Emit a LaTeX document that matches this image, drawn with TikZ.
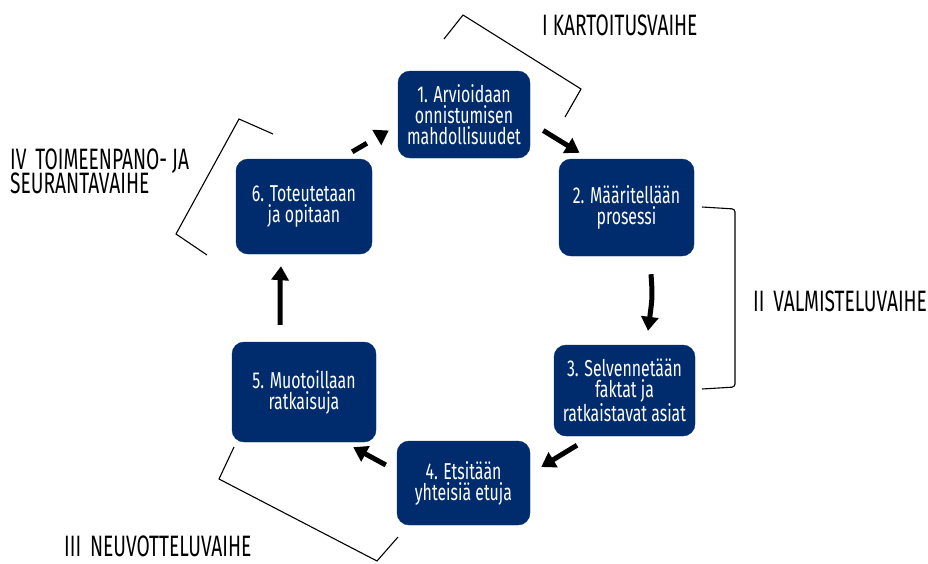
\documentclass[tikz,border=0pt]{standalone}
\usepackage{fontspec}
\setmainfont{Fira Sans}[FakeStretch=0.69]
\newfontfamily\labelfont{Fira Sans}[FakeStretch=0.65]
\usetikzlibrary{arrows.meta}
\definecolor{navy}{RGB}{0,44,110}
\tikzset{
  stepbox/.style={draw=navy, fill=navy, rounded corners=12pt, text=white, align=center,
    font=\fontsize{23}{21}\selectfont, inner sep=0pt},
  flow/.style={line width=5pt, -{Triangle[length=14pt,width=17pt]}},
  brack/.style={line width=1.1pt, line join=miter},
  phase/.style={font=\labelfont\fontsize{29.5}{30}\selectfont, anchor=west, inner sep=0pt,
    text height=19pt, text depth=0pt}
}
\begin{document}
\begin{tikzpicture}[x=1pt,y=-1pt]
\useasboundingbox (0,0) rectangle (928,563);
\node[stepbox, minimum width=132pt, minimum height=87pt] (n1) at (464,114.5) {1. Arvioidaan\\onnistumisen\\mahdollisuudet};
\node[stepbox, minimum width=135pt, minimum height=97pt] (n2) at (626.5,207.5) {2. Määritellään\\prosessi};
\node[stepbox, minimum width=141pt, minimum height=91pt] (n3) at (624.5,390.5) {3. Selvennetään\\faktat ja\\ratkaistavat asiat};
\node[stepbox, minimum width=133pt, minimum height=84pt] (n4) at (463.5,483) {4. Etsitään\\yhteisiä etuja};
\node[stepbox, minimum width=144pt, minimum height=100pt] (n5) at (304,392) {5. Muotoillaan\\ratkaisuja};
\node[stepbox, minimum width=136pt, minimum height=95pt] (n6) at (304,206.5) {6. Toteutetaan\\ja opitaan};

\draw[flow] ([shift={(13,16)}]n1.east) -- ([shift={(-47,-6)}]n2.north);
\draw[flow] ([shift={(24.5,18)}]n2.south) .. controls ([shift={(26,40)}]n2.south) .. ([shift={(23.5,-14)}]n3.north);
\draw[flow] ([shift={(-47.5,9)}]n3.south) -- ([shift={(11,-16)}]n4.east);
\draw[flow] ([shift={(-11,-18)}]n4.west) -- ([shift={(-23,5)}]n5.south east);
\draw[flow] ([shift={(-24,-17)}]n5.north) .. controls ([shift={(-24,-60)}]n5.north) .. ([shift={(-23,12)}]n6.south);
\draw[flow, dash pattern=on 17pt off 40pt] ([shift={(-20,-7)}]n6.north east) -- ([shift={(-9,16)}]n1.west);

\draw[brack] (444,39) -- (463,15) -- (581,89) -- (565,117);
\draw[brack, rounded corners=3pt] (702,207) -- (735,209) -- (735,387) -- (702,389);
\draw[brack] (234,447) -- (219,479) -- (377,561) -- (398,537);
\draw[brack] (273,134) -- (239,119) -- (176,234) -- (207,255);

\node[phase] (p1) at (542,26) {I KARTOITUSVAIHE};
\node[phase] (p2) at (753,302) {II\hspace{0.3em}VALMISTELUVAIHE};
\node[phase] (p3) at (64,547) {III\hspace{0.3em}NEUVOTTELUVAIHE};
\node[phase] (p4) at (10,160) {IV\hspace{0.3em}TOIMEENPANO- JA};
\node[phase] (p5) at (10,183.5) {SEURANTAVAIHE};
\end{tikzpicture}
\end{document}
